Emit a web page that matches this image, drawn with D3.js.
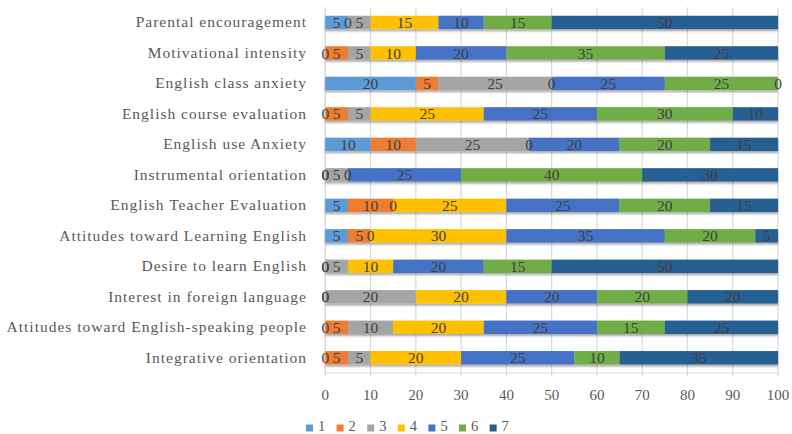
<!DOCTYPE html>
<html><head><meta charset="utf-8">
<script src="https://cdn.jsdelivr.net/npm/d3@7"></script>
<style>body{margin:0;background:#fff}svg{display:block}</style>
</head><body>
<script>
// Categories bottom to top (as drawn)
const categories = [
  "Integrative orientation",
  "Attitudes toward English-speaking people",
  "Interest in foreign language",
  "Desire to learn English",
  "Attitudes toward Learning English",
  "English Teacher Evaluation",
  "Instrumental orientation",
  "English use Anxiety",
  "English course evaluation",
  "English class anxiety",
  "Motivational intensity",
  "Parental encouragement"
];
const seriesNames = ["1","2","3","4","5","6","7"];
const s1 = [0, 0, 0, 0, 5, 5, 0, 10, 0, 20, 0, 5];
const s2 = [5, 5, 0, 0, 5, 10, 0, 10, 5, 5, 5, 0];
const s3 = [5, 10, 20, 5, 0, 0, 5, 25, 5, 25, 5, 5];
const s4 = [20, 20, 20, 10, 30, 25, 0, 0, 25, 0, 10, 15];
const s5 = [25, 25, 20, 20, 35, 25, 25, 20, 25, 25, 20, 10];
const s6 = [10, 15, 20, 15, 20, 20, 40, 20, 30, 25, 35, 15];
const s7 = [35, 25, 20, 50, 5, 15, 30, 15, 10, 0, 25, 50];
const xTicks = [0,10,20,30,40,50,60,70,80,90,100];
const colors = ["#5B9BD5","#ED7D31","#A5A5A5","#FFC000","#4472C4","#70AD47","#255E91"];

const seriesValues = [s1,s2,s3,s4,s5,s6,s7];
const table = categories.map((c,i)=>{
  const o = {cat:c};
  seriesNames.forEach((s,j)=>o[s]=seriesValues[j][i]);
  return o;
});

const FONT = '"Liberation Serif"';
const W=792,H=434;
const m = {left:325.3, right:792-778, top:7.2, bottom:434-373};
const svg = d3.select("body").append("svg").attr("width",W).attr("height",H);
const defs = svg.append("defs");
const f = defs.append("filter").attr("id","sh").attr("x","-5%").attr("y","-30%").attr("width","110%").attr("height","180%");
f.append("feDropShadow").attr("dx",0).attr("dy",2).attr("stdDeviation",1.3).attr("flood-color","#000").attr("flood-opacity",0.35);

const x = d3.scaleLinear().domain([0,100]).range([m.left, W-m.right]);
const y = d3.scaleBand().domain(categories.slice().reverse()).range([m.top, H-m.bottom]).paddingInner(0.56).paddingOuter(0.28);

function styleText(sel, size, ls, fill){
  sel.style("font-family",FONT).style("font-size",size+"px").style("fill",fill);
  if (ls) sel.style("letter-spacing",ls+"px");
}

// gridlines
svg.append("g").selectAll("line").data(xTicks).join("line")
  .attr("x1",d=>x(d)).attr("x2",d=>x(d))
  .attr("y1",m.top).attr("y2",H-m.bottom+3)
  .attr("stroke","#d9d9d9").attr("stroke-width",1.2);
// category axis line
svg.append("line").attr("x1",x(0)).attr("x2",x(0)).attr("y1",m.top).attr("y2",H-m.bottom)
  .attr("stroke","#d9d9d9").attr("stroke-width",1.2);
// bottom axis line
svg.append("line").attr("x1",x(0)).attr("x2",x(100)).attr("y1",H-m.bottom).attr("y2",H-m.bottom)
  .attr("stroke","#d9d9d9").attr("stroke-width",1.2);

const stack = d3.stack().keys(seriesNames)(table);

const gBars = svg.append("g").attr("filter","url(#sh)");
stack.forEach((layer,j)=>{
  gBars.append("g").attr("fill",colors[j]).selectAll("rect").data(layer).join("rect")
    .attr("x",d=>x(d[0])).attr("width",d=>x(d[1])-x(d[0]))
    .attr("y",d=>y(d.data.cat)).attr("height",y.bandwidth());
});

// data labels
const gLab = svg.append("g");
stack.forEach((layer,j)=>{
  gLab.append("g").selectAll("text").data(layer).join("text")
    .attr("text-anchor","middle")
    .attr("x",d=>x((d[0]+d[1])/2)).attr("y",d=>y(d.data.cat)+y.bandwidth()/2)
    .attr("dy","0.36em").text(d=>d[1]-d[0])
    .call(styleText,15.5,0,"#404040");
});

// category labels
svg.append("g").selectAll("text").data(categories).join("text")
  .attr("text-anchor","end")
  .attr("x",307).attr("y",d=>y(d)+y.bandwidth()/2).attr("dy","0.32em").text(d=>d)
  .call(styleText,15.5,1,"#595959");

// x tick labels
svg.append("g").selectAll("text").data(xTicks).join("text")
  .attr("text-anchor","middle")
  .attr("x",d=>x(d)).attr("y",395).attr("dy","0.35em").text(d=>d)
  .call(styleText,15,0,"#595959");

// legend
const lg = svg.append("g");
seriesNames.forEach((s,j)=>{
  const lx = 306 + j*30.6;
  lg.append("rect").attr("x",lx).attr("y",424.5).attr("width",7).attr("height",7).attr("fill",colors[j]);
  lg.append("text").attr("x",lx+12).attr("y",431).text(s).call(styleText,14.5,0,"#595959");
});
</script>
</body></html>
